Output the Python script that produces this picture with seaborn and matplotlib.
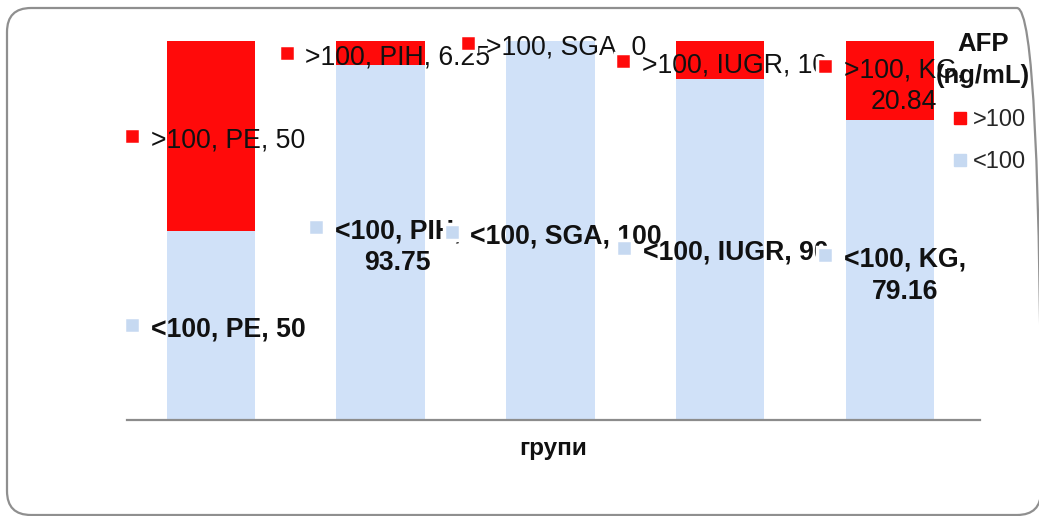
import matplotlib
matplotlib.use("Agg")
import matplotlib.pyplot as plt
import seaborn as sns
import pandas as pd
from matplotlib.lines import Line2D
from matplotlib.patches import FancyBboxPatch

# AFP distribution per group, percent of patients
groups = ["PE", "PIH", "SGA", "IUGR", "KG"]
afp_below = [50, 93.75, 100, 90, 79.16]   # <100 ng/mL
afp_above = [50, 6.25, 0, 10, 20.84]      # >100 ng/mL
series_below = "<100"
series_above = ">100"
x_title = "групи"
legend_title = "AFP\n(ng/mL)"

RED = "#ff0a0a"
BLUE = "#d0e1f8"
KEY_BLUE = "#c6d9f1"

# where each data label sits (legend key position, data coords)
above_label_at = [(-0.465, 74.9), (0.447, 96.8), (1.512, 99.4), (2.429, 94.7), (3.618, 93.4)]
below_label_at = [(-0.465, 25.1), (0.618, 50.9), (1.418, 49.6), (2.435, 45.4), (3.618, 43.5)]
wrapped_above = {"KG"}
wrapped_below = {"PIH", "KG"}

LABEL_SIZE = 19.2
LINE_SPACING = 1.3

sns.set_theme(style="white")
plt.rcParams["font.family"] = ["Liberation Sans", "DejaVu Sans"]

fig = plt.figure(figsize=(10.39, 5.16), dpi=100)
fig.patch.set_facecolor("white")
ax = fig.add_axes([0.1222, 0.186, 0.821, 0.7345])

df = pd.DataFrame({"group": groups, "below": afp_below, "above": afp_above})
df["total"] = df["below"] + df["above"]

# stacked bars: full height in red, lower part in blue on top
sns.barplot(data=df, x="group", y="total", color=RED, saturation=1, width=0.52,
            linewidth=0, errorbar=None, ax=ax)
sns.barplot(data=df, x="group", y="below", color=BLUE, saturation=1, width=0.52,
            linewidth=0, errorbar=None, ax=ax)

ax.set_xlim(-0.494, 4.53)
ax.set_ylim(0, 100)
ax.set_xticks([])
ax.set_yticks([])
for side in ("left", "right", "top"):
    ax.spines[side].set_visible(False)
ax.spines["bottom"].set_color("#8c8c8c")
ax.spines["bottom"].set_linewidth(1.6)
ax.set_xlabel(x_title, fontsize=17.5, fontweight="bold", labelpad=12, color="#111111")
ax.set_ylabel("")


def draw_label(pos, key_color, text, weight, z):
    x, y = pos
    ax.plot([x], [y], marker="s", markersize=11.5, markerfacecolor=key_color,
            markeredgecolor="white", markeredgewidth=2.5, linestyle="none",
            zorder=z + 1, clip_on=False)
    # baseline of the last line is anchored; push wrapped text down one line
    n_extra = text.count("\n")
    dy = -8.0 - n_extra * LABEL_SIZE * LINE_SPACING * 0.93
    ax.annotate(text, xy=(x, y), xytext=(13.5, dy), textcoords="offset points",
                ha="left", va="baseline", multialignment="center",
                linespacing=LINE_SPACING,
                fontsize=LABEL_SIZE, fontweight=weight, color="#111111",
                zorder=z, annotation_clip=False)


for i, g in enumerate(groups):
    sep = ",\n" if g in wrapped_above else ", "
    txt = f"{series_above}, {g}{sep}{afp_above[i]:g}"
    draw_label(above_label_at[i], RED, txt, "normal", 10 + 2 * i)

for i, g in enumerate(groups):
    sep = ",\n" if g in wrapped_below else ", "
    txt = f"{series_below}, {g}{sep}{afp_below[i]:g}"
    draw_label(below_label_at[i], KEY_BLUE, txt, "bold", 30 + 2 * i)

# legend: title set as its own centred text, entries below it
fig.text(983 / 1039, 1 - 32 / 516, legend_title, ha="center", va="top",
         multialignment="center", fontsize=18.5, fontweight="bold",
         color="#111111", linespacing=1.4, zorder=60)

handles = [
    Line2D([], [], marker="s", linestyle="none", markersize=9, markerfacecolor=RED,
           markeredgecolor=RED),
    Line2D([], [], marker="s", linestyle="none", markersize=9, markerfacecolor=KEY_BLUE,
           markeredgecolor=KEY_BLUE),
]
leg = fig.legend(handles, [series_above, series_below],
                 loc="upper left", bbox_to_anchor=(952 / 1039, 1 - 109 / 516),
                 frameon=False, fontsize=17, borderpad=0, borderaxespad=0,
                 handlelength=0.7, handletextpad=0.2, labelspacing=0.85)
leg.set_zorder(60)

# rounded outer frame
frame = FancyBboxPatch((7, 1), 1034, 507, boxstyle="round,pad=0,rounding_size=24",
                       transform=None, facecolor="none", edgecolor="#8f8f8f",
                       linewidth=1.6, zorder=100)
fig.patches.append(frame)

fig.savefig("out.png", dpi=100, facecolor="white")
